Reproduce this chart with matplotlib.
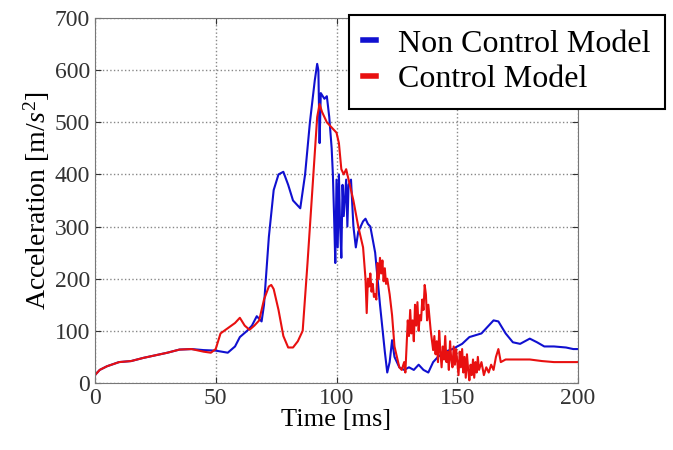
import numpy as np
import matplotlib
matplotlib.use('Agg')
import matplotlib.pyplot as plt
from matplotlib.pyplot import MultipleLocator

plt.rcParams['font.family'] = ['Liberation Serif', 'DejaVu Serif']
plt.rcParams['mathtext.fontset'] = 'custom'
plt.rcParams['mathtext.it'] = 'Liberation Serif:italic'
plt.rcParams['mathtext.rm'] = 'Liberation Serif'

# Non Control Model (time in ms, acceleration in m/s^2)
t_nc = [0, 2, 5, 10, 15, 20, 25, 30, 35, 40, 45, 50, 55, 58, 60, 63, 65, 67, 69, 70,
        72, 74, 76, 78, 80, 82, 84, 85, 87, 89, 91, 92, 92.5, 93, 93.5, 95, 96, 97, 98, 98.5,
        99, 99.5, 100, 100.5, 101, 101.5, 102, 102.5, 103, 104, 104.5, 105, 106, 107, 108, 109, 110, 111, 112, 113,
        114, 116, 118, 120, 121, 122, 123, 124, 126, 128, 130, 132, 134, 136, 138, 140, 142, 145, 148, 150,
        152, 155, 160, 163, 165, 167, 170, 173, 176, 180, 183, 186, 190, 195, 198, 200]
a_nc = [15, 25, 32, 40, 42, 48, 53, 58, 64, 65, 63, 62, 58, 70, 88, 100, 110, 128, 118, 150,
        280, 370, 400, 405, 380, 350, 340, 335, 400, 500, 580, 612, 600, 460, 556, 545, 550, 510, 450, 400,
        320, 230, 390, 260, 400, 300, 240, 380, 320, 390, 300, 380, 390, 300, 260, 290, 300, 310, 315, 305,
        300, 250, 150, 60, 20, 40, 82, 50, 30, 25, 30, 25, 35, 25, 20, 40, 50, 60, 65, 70,
        75, 88, 95, 110, 120, 118, 95, 78, 75, 85, 78, 70, 70, 68, 65, 65]

# Control Model
t_c = [0, 2, 5, 10, 15, 20, 25, 30, 35, 40, 45, 48, 50, 52, 55, 58, 60, 62, 64, 66,
       68, 70, 72, 73, 74, 76, 78, 80, 82, 84, 86, 88, 90, 92, 93, 94, 96, 98, 100, 101,
       102, 103, 104, 105, 107, 109, 111, 111.5, 112, 112.5, 113, 113.5, 114, 114.5, 115, 115.5, 116, 116.5, 117, 117.5,
       118, 118.5, 119, 119.5, 120, 120.5, 121, 122, 123, 124, 125, 126, 127, 128, 128.5, 129, 129.5, 130, 130.5, 131,
       131.5, 132, 132.5, 133, 133.5, 134, 134.5, 135, 135.5, 136, 136.5, 137, 137.5, 138, 139, 140, 140.5, 141, 141.5, 142,
       142.5, 143, 143.5, 144, 144.5, 145, 145.5, 146, 146.5, 147, 147.5, 148, 148.5, 149, 149.5, 150, 150.5, 151, 151.5, 152,
       152.5, 153, 153.5, 154, 154.5, 155, 155.5, 156, 156.5, 157, 157.5, 158, 158.5, 159, 160, 161, 162, 163, 164, 165,
       166, 167, 168, 170, 175, 180, 185, 190, 195, 200]
a_c = [15, 25, 32, 40, 42, 48, 53, 58, 64, 65, 60, 58, 65, 95, 105, 115, 125, 110, 102, 110,
       120, 160, 185, 188, 180, 140, 90, 68, 68, 80, 100, 230, 370, 510, 535, 520, 500, 490, 480, 460,
       410, 400, 410, 390, 350, 300, 260, 230, 200, 134, 200, 185, 210, 175, 190, 165, 170, 160, 230, 200,
       240, 210, 235, 195, 220, 190, 200, 170, 130, 70, 50, 30, 25, 40, 20, 70, 120, 90, 140, 95,
       120, 80, 150, 110, 155, 100, 130, 120, 160, 140, 188, 170, 120, 150, 100, 63, 90, 55, 80, 40,
       100, 60, 30, 70, 45, 90, 40, 60, 25, 80, 45, 30, 70, 35, 65, 40, 15, 60, 30, 65,
       20, 50, 10, 55, 25, 5, 35, 15, 45, 10, 40, 20, 50, 25, 40, 15, 30, 20, 35, 25,
       50, 65, 40, 45, 45, 45, 42, 40, 40, 40]

fig = plt.figure(figsize=(6.73, 4.5), dpi=100)
ax = fig.add_axes([0.141, 0.149, 0.718, 0.811])

ax.plot(t_nc, a_nc, color='#1010d0', lw=1.5, label='Non Control Model')
ax.plot(t_c, a_c, color='#e81010', lw=1.5, label='Control Model')

ax.set_xlim(0, 200)
ax.set_ylim(0, 700)
ax.xaxis.set_major_locator(MultipleLocator(50))
ax.yaxis.set_major_locator(MultipleLocator(100))
ax.grid(True, linestyle=':', color='#888888', lw=1)
ax.tick_params(direction='in', top=True, right=True, labelsize=17, colors='#333333', length=4)
for s in ax.spines.values():
    s.set_color('#777777')

ax.set_xlabel('Time [ms]', fontsize=19, labelpad=0)
ax.set_ylabel('Acceleration [m/$s^2$]', fontsize=20, labelpad=2)

leg = ax.legend(loc='upper right', bbox_to_anchor=(0.988, 0.967), bbox_transform=fig.transFigure,
                fontsize=23, handlelength=0.4, handletextpad=0.7, borderaxespad=0,
                fancybox=False, framealpha=1, edgecolor='black', labelspacing=0.2, borderpad=0.45)
leg.get_frame().set_linewidth(1.5)
for line in leg.get_lines():
    line.set_linewidth(4)

fig.savefig('out.png', dpi=100)
